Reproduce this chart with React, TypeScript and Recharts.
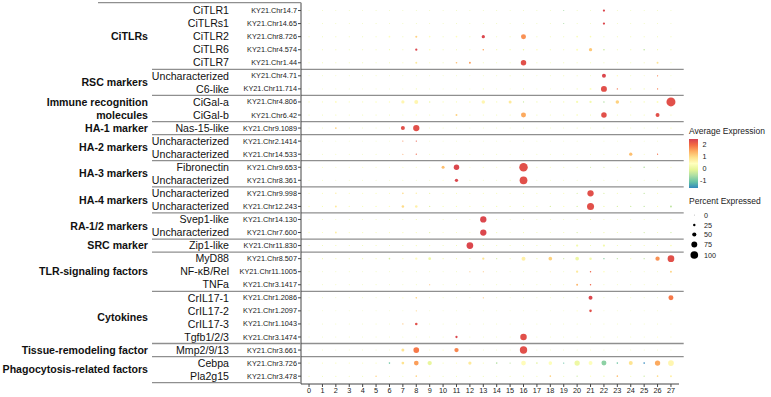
import React from "react";
import { ScatterChart, Scatter, XAxis, YAxis, ReferenceLine, Customized } from "recharts";

// ---------------- data ----------------
const clusters = [0,1,2,3,4,5,6,7,8,9,10,11,12,13,14,15,16,17,18,19,20,21,22,23,24,25,26,27];

const geneNames = ["CiTLR1","CiTLRs1","CiTLR2","CiTLR6","CiTLR7","Uncharacterized","C6-like","CiGal-a","CiGal-b","Nas-15-like","Uncharacterized","Uncharacterized","Fibronectin","Uncharacterized","Uncharacterized","Uncharacterized","Svep1-like","Uncharacterized","Zip1-like","MyD88","NF-κB/Rel","TNFa","CrIL17-1","CrIL17-2","CrIL17-3","Tgfb1/2/3","Mmp2/9/13","Cebpa","Pla2g15"];

const geneIds = ["KY21.Chr14.7","KY21.Chr14.65","KY21.Chr8.726","KY21.Chr4.574","KY21.Chr1.44","KY21.Chr4.71","KY21.Chr11.714","KY21.Chr4.806","KY21.Chr6.42","KY21.Chr9.1089","KY21.Chr2.1414","KY21.Chr14.533","KY21.Chr9.653","KY21.Chr8.361","KY21.Chr9.998","KY21.Chr12.243","KY21.Chr14.130","KY21.Chr7.600","KY21.Chr11.830","KY21.Chr8.507","KY21.Chr11.1005","KY21.Chr3.1417","KY21.Chr1.2086","KY21.Chr1.2097","KY21.Chr1.1043","KY21.Chr3.1474","KY21.Chr3.661","KY21.Chr3.726","KY21.Chr3.478"];

const groupLabels = [["CiTLRs"],["RSC markers"],["Immune recognition","molecules"],["HA-1 marker"],["HA-2 markers"],["HA-3 markers"],["HA-4 markers"],["RA-1/2 markers"],["SRC marker"],["TLR-signaling factors"],["Cytokines"],["Tissue-remodeling factor"],["Phagocytosis-related factors"]];
const groupStart = [0,5,7,9,10,12,14,16,18,19,22,26,27];
const groupEnd   = [4,6,8,9,11,13,15,17,18,21,25,26,28];

// percent expressed per gene row (columns = clusters 0..27)
const percentExpressed = [
  [2,2,2,2,2,2,2,2,2,2,2,2,2,2,2,2,2,2,2,3,2,2,18,2,2,2,2,2],
  [2,2,2,2,2,2,2,2,2,2,2,2,2,2,2,2,2,2,2,3,2,2,18,2,2,2,2,2],
  [3,3,3,3,3,3,11,3,15,10,3,10,3,30,3,3,51,3,3,3,10,10,3,3,3,3,3,3],
  [3,3,3,3,3,3,5,3,18,10,3,3,3,10,5,5,8,10,4,3,15,30,10,4,4,9,5,4],
  [3,3,3,3,3,3,3,5,14,5,3,10,14,3,3,3,57,3,3,3,5,5,3,3,3,3,14,3],
  [2,2,2,2,2,2,2,2,2,2,2,2,2,2,2,3,2,2,2,3,3,2,39,8,2,2,6,2],
  [2,2,2,2,2,2,2,2,3,2,2,2,2,3,2,2,3,2,2,2,3,14,63,6,3,4,6,2],
  [5,5,11,5,5,8,8,30,39,8,6,6,8,33,6,27,6,6,6,6,18,18,8,33,6,6,14,100],
  [3,3,3,3,3,3,3,3,6,3,3,14,3,3,3,3,51,3,3,3,10,3,57,3,3,3,39,3],
  [2,2,11,2,2,2,2,39,67,2,2,2,2,2,2,2,2,2,2,2,3,2,2,2,2,2,2,5],
  [2,2,2,2,2,2,2,3,5,2,2,2,2,2,2,2,2,2,2,2,2,2,2,2,2,2,2,2],
  [2,2,2,2,2,2,2,3,5,2,2,2,2,2,2,2,2,2,2,2,2,2,2,2,30,2,6,2],
  [4,4,4,4,4,4,5,4,5,4,27,57,4,5,4,4,94,5,4,4,5,5,5,5,5,10,5,5],
  [2,2,2,2,2,2,2,2,2,2,4,30,3,2,2,3,85,2,2,2,2,2,2,2,2,2,2,2],
  [4,4,8,4,4,4,4,10,8,5,4,4,4,4,4,4,5,4,4,4,5,67,5,4,4,7,5,4],
  [8,5,14,5,4,6,7,21,21,6,5,6,5,6,5,5,7,5,6,7,6,76,5,5,5,6,5,14],
  [2,2,2,2,2,2,2,2,3,2,2,2,2,67,2,2,3,2,2,2,3,3,2,2,2,2,2,2],
  [7,4,13,5,5,5,5,6,6,6,4,4,4,67,5,4,5,4,4,4,6,5,5,4,4,5,4,6],
  [3,3,3,3,3,3,3,3,5,6,3,3,72,3,3,3,3,3,3,3,18,3,18,3,3,3,3,10],
  [3,3,5,3,3,5,10,5,18,24,5,5,5,18,5,5,39,6,35,4,35,21,8,6,4,6,43,72],
  [2,2,2,2,2,2,2,2,2,2,2,2,4,4,2,2,2,2,3,2,18,8,10,2,2,2,2,13],
  [2,2,2,2,2,2,2,2,2,5,2,2,2,2,2,2,2,2,2,2,13,8,2,2,2,2,2,2],
  [2,2,2,2,2,2,2,4,10,2,2,2,2,4,2,2,2,2,2,2,2,39,2,2,2,2,2,51],
  [2,2,2,2,2,2,2,2,4,2,2,2,2,2,2,2,2,2,2,2,6,21,2,2,2,2,2,2],
  [2,2,2,2,2,2,2,4,21,2,2,2,2,2,2,2,2,2,2,2,2,2,2,2,2,2,2,2],
  [2,2,2,2,2,2,2,2,2,2,2,18,2,2,2,2,70,2,2,2,2,2,2,2,2,2,5,2],
  [2,2,2,2,2,2,2,27,60,4,6,43,2,2,2,2,80,2,2,2,2,4,2,2,2,2,2,2],
  [5,5,6,4,4,5,10,24,48,43,5,6,30,5,10,6,48,10,35,5,55,39,51,10,39,10,55,60],
  [3,3,3,3,3,8,3,3,10,5,3,3,3,3,3,3,5,3,10,3,6,6,7,10,3,7,10,14],
];

// average (scaled) expression per gene row
const averageExpression = [
  [0,0,0,0,0,0,0,0,0,0,0,0,0,0,0,0,0,0,0,-0.6,0,0,2.4,0,0,0,0,0],
  [0,0,0,0,0,0,0,0,0,0,0,0,0,0,0,0,0,0,0,-0.6,0,0,2.4,0,0,0,0,0],
  [0.1,0.1,0.1,0.1,0.1,0.1,0.4,0.1,1.1,0.4,0.1,0.5,0.1,2.4,0.1,0.1,1.7,0.1,0.1,0.1,0.3,0.3,0.1,0.1,0.1,0.1,0.1,0.1],
  [0.1,0.1,0.1,0.1,0.1,0.1,0.2,0.1,2.4,0.5,0.1,0.1,0.1,1.5,0.2,0.2,0.1,0.5,0.1,0.1,0.4,1.2,-0.3,0.1,0.1,-0.4,0.2,0.1],
  [0.1,0.1,0.1,0.1,0.1,0.1,0.1,0.3,0.8,0.3,0.1,1.3,1.6,0.1,0.1,0.1,2.3,0.1,0.1,0.1,0.2,0.2,0.1,0.1,0.1,0.1,0.9,0.1],
  [0,0,0,0,0,0,0,0,0,0,0,0,0,0,0,0.1,0,0,0,0.1,0.1,0,2.4,0.5,0,0,1.8,0],
  [0,0,0,0,0,0,0,0,0.1,0,0,0,0,0.1,0,0,0.1,0,0,0,0.1,0.4,2.3,2.0,0.1,0.1,1.9,0],
  [0.3,0.3,0.5,0.3,0.3,0.4,0.4,0.6,0.6,0.1,0.3,0.3,0.4,0.6,0.3,0.8,-0.3,0.2,0.2,0.2,0.3,0.2,-0.5,1.1,0.2,0.2,0.4,2.3],
  [0.1,0.1,0.1,0.1,0.1,0.1,0.1,0.1,0.4,0.1,0.1,1.1,0.1,0.1,0.1,0.1,1.5,0.1,0.1,0.1,0.3,0.1,2.3,0.1,0.1,0.1,2.3,0.1],
  [0,0,1.1,0,0,0,0,2.3,2.3,0,0,0,0,0,0,0,0,0,0,0,0.1,0,0,0,0,0,0,0.3],
  [0,0,0,0,0,0,0,1.8,2.2,0,0,0,0,0,0,0,0,0,0,0,0,0,0,0,0,0,0,0],
  [0,0,0,0,0,0,0,1.6,2.1,0,0,0,0,0,0,0,0,0,0,0,0,0,0,0,1.3,0,2.0,0],
  [0.3,0.3,0.3,0.3,0.3,0.3,0.3,0.3,0.3,0.3,1.3,2.4,0.3,0.3,0.3,0.3,2.3,0.2,0.2,0.2,0.2,-0.3,-0.2,0.2,0.2,-0.5,0.2,0.2],
  [0,0,0,0,0,0,0,0,0,0,0.4,2.4,0.1,0,0,0.1,2.3,0,0,0,0,0,0,0,0,0,0,0],
  [0.3,0.3,0.7,0.3,0.3,0.3,0.3,1.0,0.7,0,0.3,0.3,0.3,0.3,0.3,0.3,0.2,0.3,0.3,0.3,-0.2,2.3,-0.2,0.2,0.2,-0.4,0.3,0.3],
  [0.4,0.3,0.8,0.3,0.3,0.3,0.4,1.0,0.7,-0.1,0.3,0.3,0.3,0.3,0.2,0.2,0.2,0.2,-0.2,0.4,-0.2,2.3,0.1,-0.2,-0.3,-0.4,0.3,-0.4],
  [0,0,0,0,0,0,0,0,0.1,0,0,0,0,2.4,0,0,0.1,0,0,0,0.1,0.1,0,0,0,0,0,0],
  [0.4,0.3,0.7,0.3,0.3,0.3,0.3,0.3,0.3,-0.1,0.3,0.3,0.3,2.4,0.2,0.2,0.2,0.2,0.2,0.2,-0.2,0.2,0.1,0.1,0.1,-0.3,0.2,-0.3],
  [0.1,0.1,0.1,0.1,0.1,0.1,0.1,0.1,0.2,0.3,0.1,0.1,2.4,0.1,0.1,0.1,0.1,0.1,0.1,0.1,0.2,0.1,0.2,0.1,0.1,0.1,0.1,0.3],
  [0.1,0.1,0.3,0.1,0.1,0.3,-0.2,0.3,0.5,0.1,0.2,0.2,0.2,0.9,-0.2,0.2,0.7,0.2,1.1,-0.3,0.1,0.2,-0.8,-0.4,0.2,-0.4,1.7,2.3],
  [0,0,0,0,0,0,0,0,0,0,0,0,1.3,1.3,0,0,0,0,0.8,0,0.8,2.1,0.4,0,0,0,0,1.1],
  [0,0,0,0,0,0,0,0,0,1.3,0,0,0,0,0,0,0,0,0,0,1.4,2.1,0,0,0,0,0,0],
  [0,0,0,0,0,0,0,0.4,1.1,0,0,0,0,1.3,0,0,0,0,0,0,0,2.4,0,0,0,0,0,1.9],
  [0,0,0,0,0,0,0,0,1.1,0,0,0,0,0,0,0,0,0,0,0,0.4,2.3,0,0,0,0,0,0],
  [0,0,0,0,0,0,0,1.3,2.3,0,0,0,0,0,0,0,0,0,0,0,0,0,0,0,0,0,0,0],
  [0,0,0,0,0,0,0,0,0,0,0,2.4,0,0,0,0,2.3,0,0,0,0,0,0,0,0,0,0.5,0],
  [0,0,0,0,0,0,0,0.9,1.9,0.3,0.4,1.8,0,0,0,0,2.3,0,0,0,0,0.3,0,0,0,0,0,0],
  [0.3,0.3,0.3,0.3,0.3,0.3,-1.0,0.9,1.6,0.0,0.3,0.4,0.8,0.3,-0.5,-0.4,0.5,-0.1,0.4,-1.1,0.1,0.4,-0.8,-1.0,0.9,-1.6,1.5,0.6],
  [0.1,0.1,0.1,0.1,0.1,1.1,0.1,0.1,1.1,0.4,0.1,0.1,0.1,0.1,0.1,0.1,0.2,0.1,1.1,0.1,-0.3,0.4,0.1,1.3,0.1,-0.3,1.0,0.7],
];

const colorbarLabels = [2, 1, 0, -1];
const sizeLegendValues = [0, 25, 50, 75, 100];

// ---------------- styling helpers ----------------
const FONT = "'Liberation Sans', Arial, Helvetica, sans-serif";
const AXIS_X = 301;
const ROW_MIN = -0.6;
const ROW_MAX = 28.6;
const SEP = "#8f8f8f";

const colorStops: [number, string][] = [
  [-1.6, "#3288BD"],
  [-1.09, "#66C2A5"],
  [-0.575, "#ABDDA4"],
  [-0.06, "#E6F598"],
  [0.45, "#FFFFBF"],
  [0.96, "#FEE08B"],
  [1.47, "#FDAE61"],
  [1.99, "#F46D43"],
  [2.5, "#D53E4F"],
];

function hexToRgb(h: string) {
  const n = parseInt(h.slice(1), 16);
  return [(n >> 16) & 255, (n >> 8) & 255, n & 255];
}
function colorFor(v: number) {
  if (v <= colorStops[0][0]) return colorStops[0][1];
  const last = colorStops[colorStops.length - 1];
  if (v >= last[0]) return last[1];
  for (let i = 0; i < colorStops.length - 1; i++) {
    const [a, ca] = colorStops[i];
    const [b, cb] = colorStops[i + 1];
    if (v >= a && v <= b) {
      const t = (v - a) / (b - a);
      const A = hexToRgb(ca), B = hexToRgb(cb);
      const c = A.map((x, k) => Math.round(x + (B[k] - x) * t));
      return `rgb(${c[0]},${c[1]},${c[2]})`;
    }
  }
  return last[1];
}
const radiusFor = (p: number) => 0.4 + 4.1 * (p / 100);

// ---------------- derived tables ----------------
const points = percentExpressed.flatMap((row, r) =>
  row.map((p, c) => ({ x: clusters[c], y: r, pct: p, avg: averageExpression[r][c] }))
);

const labelAt: Record<string, string> = {};
groupLabels.forEach((lines, g) => {
  const center = (groupStart[g] + groupEnd[g]) / 2;
  lines.forEach((line, i) => {
    const pos = center - (lines.length - 1) / 2 + i;
    labelAt[String(pos)] = line;
  });
});
const separators = groupEnd.map((e) => e + 0.5);

const yTicks = Array.from(
  new Set<number>([ROW_MIN, ...geneNames.map((_, i) => i), ...Object.keys(labelAt).map(Number), ...separators])
).sort((a, b) => a - b);

const YTick = (props: any) => {
  const { y, payload } = props;
  const v: number = payload.value;
  const parts: React.ReactNode[] = [];
  if (Number.isInteger(v) && v >= 0 && v < geneNames.length) {
    parts.push(
      <line key="tl" x1={AXIS_X - 3} x2={AXIS_X} y1={y} y2={y} stroke="#444" strokeWidth={1} />,
      <text key="id" x={AXIS_X - 4} y={y} dy="0.35em" textAnchor="end" fontSize={7.3} fill="#222" fontFamily={FONT}>{geneIds[v]}</text>,
      <text key="gn" x={229} y={y} dy="0.35em" textAnchor="end" fontSize={10.6} fill="#111" fontFamily={FONT}>{geneNames[v]}</text>
    );
  }
  const lab = labelAt[String(v)];
  if (lab) {
    parts.push(
      <text key="grp" x={148} y={y} dy="0.35em" textAnchor="end" fontSize={10.6} fontWeight="bold" fill="#111" fontFamily={FONT}>{lab}</text>
    );
  }
  if (v === ROW_MIN) {
    parts.push(<line key="top" x1={98} x2={AXIS_X} y1={y} y2={y} stroke={SEP} strokeWidth={1.3} />);
  } else if (separators.includes(v)) {
    parts.push(<line key="sep" x1={152} x2={AXIS_X} y1={y} y2={y} stroke={SEP} strokeWidth={1.3} />);
  }
  return <g>{parts}</g>;
};

const Dot = (props: any) => {
  const { cx, cy } = props;
  const d = props.payload || props;
  if (cx == null || cy == null) return <g />;
  return <circle cx={cx} cy={cy} r={radiusFor(d.pct)} fill={colorFor(d.avg)} />;
};

const Legends = () => {
  const barX = 689, barTop = 139, barH = 49, barW = 9;
  const vMax = colorStops[colorStops.length - 1][0];
  const vMin = colorStops[0][0];
  const yOf = (v: number) => barTop + ((vMax - v) / (vMax - vMin)) * barH;
  const sizeYs = [215, 225, 234.5, 244.5, 255];
  return (
    <g fontFamily={FONT}>
      <defs>
        <linearGradient id="avgGrad" x1="0" y1="0" x2="0" y2="1">
          {colorStops.slice().reverse().map(([v, c]) => (
            <stop key={v} offset={(vMax - v) / (vMax - vMin)} stopColor={c} />
          ))}
        </linearGradient>
      </defs>
      <text x={689} y={131} dy="0.35em" fontSize={8.5} fill="#222">Average Expression</text>
      <rect x={barX} y={barTop} width={barW} height={barH} fill="url(#avgGrad)" />
      {colorbarLabels.map((v) => (
        <text key={v} x={v < 0 ? 700 : 702.5} y={yOf(v)} dy="0.35em" fontSize={7.2} fill="#222">{v}</text>
      ))}
      <text x={689} y={201} dy="0.35em" fontSize={8.5} fill="#222">Percent Expressed</text>
      {sizeLegendValues.map((p, i) => (
        <g key={p}>
          <circle cx={694.3} cy={sizeYs[i]} r={radiusFor(p) * 0.85} fill="#000" />
          <text x={704} y={sizeYs[i]} dy="0.35em" fontSize={7.2} fill="#222">{p}</text>
        </g>
      ))}
    </g>
  );
};

export default function App() {
  return (
    <div style={{ position: "absolute", left: 0, top: 0, width: 771, height: 397, background: "#fff" }}>
      <ScatterChart width={771} height={397} margin={{ top: 2.7, right: 92, bottom: 0, left: 0 }}>
        <XAxis
          type="number"
          dataKey="x"
          domain={[-0.6, 27.6]}
          ticks={clusters}
          interval={0}
          height={13}
          tickSize={3}
          tickMargin={1}
          tick={{ fontSize: 7.3, fill: "#222", fontFamily: FONT }}
          axisLine={{ stroke: "#444" }}
          tickLine={{ stroke: "#444" }}
          allowDataOverflow
        />
        <YAxis
          type="number"
          dataKey="y"
          domain={[ROW_MIN, ROW_MAX]}
          reversed
          ticks={yTicks}
          interval={0}
          width={AXIS_X}
          tick={<YTick />}
          tickLine={false}
          axisLine={{ stroke: "#444" }}
          allowDataOverflow
        />
        {separators.slice(0, -1).map((s) => (
          <ReferenceLine
            key={s}
            segment={[{ x: -0.6, y: s }, { x: 27.95, y: s }]}
            stroke={SEP}
            strokeWidth={1.3}
            ifOverflow="visible"
          />
        ))}
        <Scatter data={points} isAnimationActive={false} shape={<Dot />} />
        <Customized component={Legends} />
      </ScatterChart>
    </div>
  );
}
